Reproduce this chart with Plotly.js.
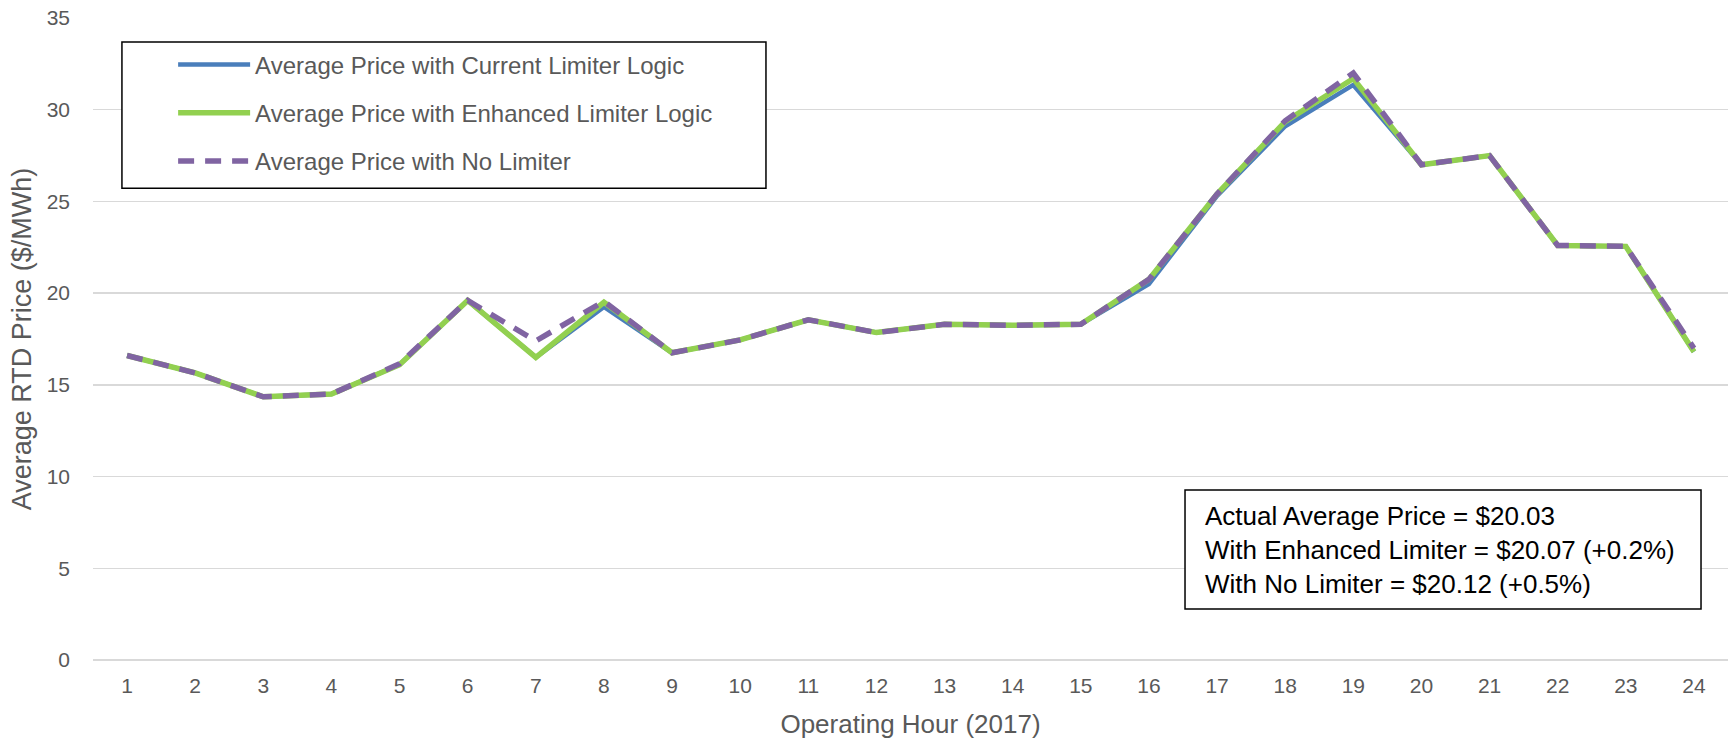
<!DOCTYPE html>
<html>
<head>
<meta charset="utf-8">
<script src="https://cdn.plot.ly/plotly-3.0.1.min.js"></script>
<style>
  html, body { margin: 0; padding: 0; background: #ffffff; }
  #chart { width: 1736px; height: 741px; }
</style>
</head>
<body>
<div id="chart"></div>
<script>
// ---- data ----
const hours = [1,2,3,4,5,6,7,8,9,10,11,12,13,14,15,16,17,18,19,20,21,22,23,24];
const currentLimiter  = [16.6,15.65,14.35,14.5,16.1,19.6,16.5,19.25,16.75,17.45,18.55,17.85,18.3,18.25,18.3,20.5,25.3,29.1,31.35,27.0,27.5,22.6,22.55,16.8];
const enhancedLimiter = [16.6,15.65,14.35,14.5,16.1,19.6,16.5,19.5,16.75,17.45,18.55,17.85,18.3,18.25,18.3,20.75,25.4,29.35,31.7,27.0,27.5,22.6,22.55,16.8];
const noLimiter       = [16.6,15.65,14.35,14.5,16.15,19.6,17.4,19.55,16.75,17.45,18.55,17.85,18.3,18.25,18.3,20.75,25.4,29.4,32.0,27.0,27.5,22.6,22.55,17.0];
const seriesNames = [
  "Average Price with Current Limiter Logic",
  "Average Price with Enhanced Limiter Logic",
  "Average Price with No Limiter"
];
const yTicks = [0,5,10,15,20,25,30,35];
const summaryLines = [
  "Actual Average Price = $20.03",
  "With Enhanced Limiter = $20.07 (+0.2%)",
  "With No Limiter = $20.12 (+0.5%)"
];

const FONT = "'Liberation Sans', Arial, sans-serif";
const GREY = "#595959";

const traces = [
  { x: hours, y: currentLimiter, name: seriesNames[0], type: "scatter", mode: "lines",
    legendgroup: "a", line: { color: "#4a7ebb", width: 4.5 } },
  { x: hours, y: enhancedLimiter, name: seriesNames[1], type: "scatter", mode: "lines",
    legendgroup: "b", line: { color: "#92d050", width: 5.5 } },
  { x: hours, y: noLimiter, name: seriesNames[2], type: "scatter", mode: "lines",
    legendgroup: "c", line: { color: "#8064a2", width: 5.5, dash: "16px,11px" } }
];

const layout = {
  width: 1736, height: 741,
  margin: { l: 93, r: 8, t: 18, b: 81 },
  paper_bgcolor: "#ffffff", plot_bgcolor: "#ffffff",
  font: { family: FONT, color: GREY, size: 21 },
  showlegend: true,
  legend: {
    x: 0.049, xanchor: "left", y: 0.962, yanchor: "top",
    bgcolor: "rgba(0,0,0,0)", borderwidth: 0,
    font: { family: FONT, size: 24, color: GREY },
    tracegroupgap: 14, itemwidth: 72, traceorder: "grouped"
  },
  xaxis: {
    range: [0.5, 24.5], tickmode: "array", tickvals: hours, ticktext: hours.map(String),
    showgrid: false, zeroline: false, showline: false, ticks: "",
    ticklabelstandoff: 11,
    tickfont: { family: FONT, size: 21, color: GREY },
    title: { text: "Operating Hour (2017)", font: { family: FONT, size: 26, color: GREY }, standoff: 18 }
  },
  yaxis: {
    range: [0, 35], tickmode: "array", tickvals: yTicks,
    showgrid: true, gridcolor: "#d9d9d9", gridwidth: 1.5,
    zeroline: true, zerolinecolor: "#d9d9d9", zerolinewidth: 1.5,
    showline: false, ticks: "", ticklabelstandoff: 22,
    tickfont: { family: FONT, size: 21, color: GREY },
    title: { text: "Average RTD Price ($/MWh)", font: { family: FONT, size: 27, color: GREY }, standoff: 7 }
  },
  shapes: [
    { type: "rect", xref: "paper", yref: "paper", layer: "above",
      x0: 0.0177, x1: 0.4116, y0: 0.735, y1: 0.9626,
      line: { color: "#000000", width: 1.5 }, fillcolor: "#ffffff" },
    { type: "rect", xref: "paper", yref: "paper", layer: "above",
      x0: 0.6679, x1: 0.9835, y0: 0.0794, y1: 0.2648,
      line: { color: "#000000", width: 1.5 }, fillcolor: "#ffffff" }
  ],
  annotations: [
    { xref: "paper", yref: "paper", x: 0.679, y: 0.172, xanchor: "left", yanchor: "middle",
      align: "left", showarrow: false, text: summaryLines.join("<br>"),
      font: { family: FONT, size: 26, color: "#000000" } }
  ]
};

Plotly.newPlot("chart", traces, layout, { displayModeBar: false, staticPlot: true });
</script>
</body>
</html>
